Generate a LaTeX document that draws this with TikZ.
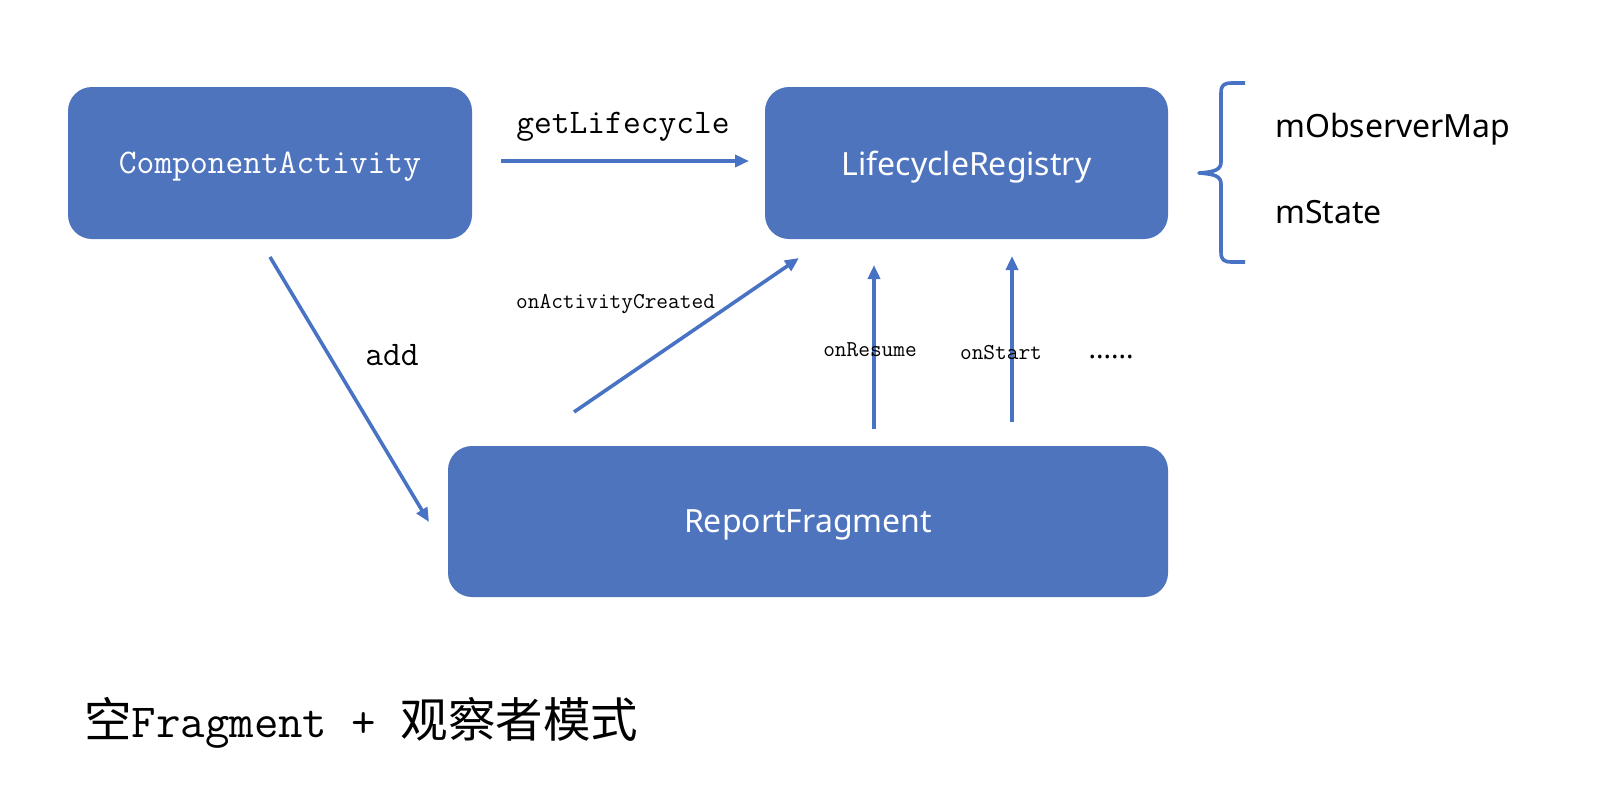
\documentclass[tikz,border=0pt]{standalone}
\usepackage{fontspec}
\newfontfamily\sansf{Noto Sans}
\newfontfamily\cjk{Noto Sans CJK SC}
\usetikzlibrary{arrows.meta}
\definecolor{boxblue}{RGB}{79,116,190}
\definecolor{lineblue}{RGB}{72,114,196}
\tikzset{
  box/.style={draw=none, fill=boxblue, rounded corners=24pt, text=white, inner sep=0pt, text depth=0pt},
  monobig/.style={font=\ttfamily\fontsize{34.5}{40}\selectfont},
  monosmall/.style={font=\ttfamily\fontsize{22.7}{26}\selectfont},
  sansmid/.style={font=\sansf\fontsize{32}{36}\selectfont},
  arr/.style={draw=lineblue, line width=3.6pt, -{Triangle[length=14pt,width=12pt]}},
  bracestyle/.style={draw=lineblue, line width=3.6pt, line join=round},
  lbl/.style={inner sep=0pt, anchor=base}
}
\begin{document}
\begin{tikzpicture}[x=1pt,y=-1pt]
\useasboundingbox (0,0) rectangle (1602,796);
\fill[white] (0,0) rectangle (1602,796);

% boxes
\node[box, monobig, minimum width=404pt, minimum height=152pt] (ca) at (270,163) {ComponentActivity};
\node[box, sansmid, minimum width=403pt, minimum height=152pt] (lr) at (966.5,163) {LifecycleRegistry};
\node[box, sansmid, minimum width=720pt, minimum height=151pt] (rf) at (808,521.5) {ReportFragment};

% free arrow ends
\coordinate (gl1) at (501,161);
\coordinate (gl2) at (749,161);
\coordinate (ad1) at (270,257);
\coordinate (ad2) at (429,522);
\coordinate (oc1) at (574,412);
\coordinate (oc2) at (799,258);
\coordinate (or1) at (874,429);
\coordinate (or2) at (874,265);
\coordinate (os1) at (1012,422);
\coordinate (os2) at (1012,256);

\draw[arr] (gl1) -- (gl2);
\draw[arr] (ad1) -- (ad2);
\draw[arr] (oc1) -- (oc2);
\draw[arr] (or1) -- (or2);
\draw[arr] (os1) -- (os2);

% labels
\node[lbl, monobig] (tgl) at (623,133) {getLifecycle};
\node[lbl, monobig] (tadd) at (392,365) {add};
\node[lbl, monosmall, anchor=base west] (toc) at (516,308) {onActivityCreated};
\node[lbl, monosmall] (tor) at (870,356) {onResume};
\node[lbl, monosmall] (tos) at (1001,359) {onStart};
\node[lbl, font=\sansf\fontsize{28}{30}\selectfont] (tdots) at (1111,358) {......};

% brace
\draw[bracestyle] (1245,83) -- (1232,83) .. controls (1224,83) and (1221,85) .. (1221,93)
  -- (1221,162) .. controls (1221,170) and (1214,172) .. (1199,173)
  .. controls (1214,174) and (1221,176) .. (1221,184)
  -- (1221,252) .. controls (1221,260) and (1224,262) .. (1232,262) -- (1245,262);

\node[lbl, sansmid, anchor=base west] (tmap) at (1275,137) {mObserverMap};
\node[lbl, sansmid, anchor=base west] (tstate) at (1275,223) {mState};

% caption
\node[inner sep=0pt, anchor=base west, font=\fontsize{47.5}{52}\selectfont] (cap) at (84,737)
  {{\cjk 空}{\ttfamily Fragment + }{\cjk 观察者模式}};
\end{tikzpicture}
\end{document}
